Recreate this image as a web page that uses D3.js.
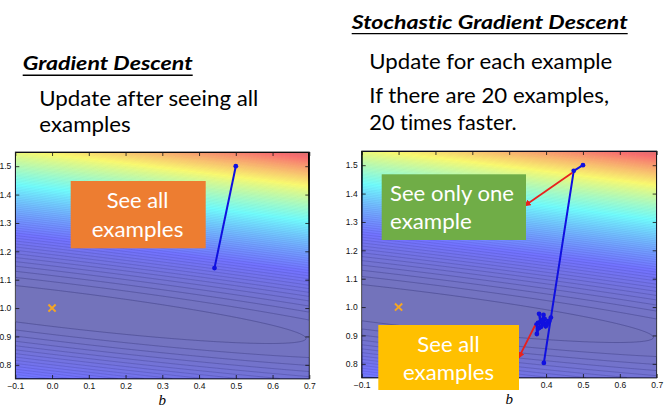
<!DOCTYPE html>
<html>
<head>
<meta charset="utf-8">
<script src="https://cdn.jsdelivr.net/npm/d3@7"></script>
<style>
  body { margin: 0; background: #fff; }
  svg { display: block; }
  .tick text { font-family: "Liberation Sans", Arial, sans-serif; font-size: 8.5px; fill: #111; }
  .tick line { stroke: #111; stroke-width: 0.8; }
  .slide, .note { font-family: Lato, "Open Sans", sans-serif; font-variant-ligatures: none; font-feature-settings: "liga" 0, "clig" 0; }
  .slide { fill: #000; }
  .note { fill: #fff; font-size: 22px; }
</style>
</head>
<body>
<svg id="chart" width="669" height="415"></svg>
<script>
// axis values
var bTicks = [-0.1, 0.0, 0.1, 0.2, 0.3, 0.4, 0.5, 0.6, 0.7];
var wTicks = [0.8, 0.9, 1.0, 1.1, 1.2, 1.3, 1.4, 1.5];
var bDomain = [-0.1, 0.7];
var wDomain = [0.75, 1.55];

// the true (b, w) marked with the orange cross
var target = [0.0, 1.0];

// gradient descent: one update after all examples
var gdPath = [[0.500, 1.500], [0.442, 1.141]];

// stochastic gradient descent: one update per example
var sgdPath = [
  [0.500, 1.500], [0.475, 1.480], [0.394, 0.803], [0.413, 0.963],
  [0.405, 0.945], [0.399, 0.932], [0.393, 0.972], [0.388, 0.948],
  [0.381, 0.976], [0.384, 0.947], [0.374, 0.938], [0.375, 0.905],
  [0.381, 0.926], [0.392, 0.941], [0.401, 0.936], [0.409, 0.952],
  [0.396, 0.958], [0.386, 0.930], [0.378, 0.944], [0.391, 0.950]
];

// loss surface: bb*db^2 + 2*bw*db*dw + ww*dw^2 around lossCentre
var lossCentre = [0.0, 1.0];
var lossCoef = [3.76, 17.8, 115];
var contourStart = 0.48, contourStep = 0.515, colourMax = 54, fillAlpha = 0.55;

// red arrows pointing from the path to the notes (b, w)
var sgdArrows = [
  { from: [0.471, 1.473], to: [0.343, 1.358] },
  { from: [0.370, 0.935], to: [0.326, 0.822] }
];

var panels = [
  { id: 'gd',  x: [15.3, 309.3],  y: [379, 152], path: gdPath,  arrows: [], hidden: [] },
  // the yellow note covers the first b labels on the right
  { id: 'sgd', x: [361.7, 656.7], y: [378, 151], path: sgdPath, arrows: sgdArrows, hidden: [0.0, 0.1, 0.2, 0.3] }
];

var svg = d3.select('#chart');
var defs = svg.append('defs');

defs.append('marker')
    .attr('id', 'head')
    .attr('viewBox', '0 0 10 10')
    .attr('refX', 8).attr('refY', 5)
    .attr('markerWidth', 7).attr('markerHeight', 7)
    .attr('markerUnits', 'userSpaceOnUse')
    .attr('orient', 'auto')
  .append('path')
    .attr('d', 'M0,0L10,5L0,10z')
    .attr('fill', '#e8211d');

function loss(b, w) {
  var db = b - lossCentre[0], dw = w - lossCentre[1];
  return lossCoef[0]*db*db + 2*lossCoef[1]*db*dw + lossCoef[2]*dw*dw;
}

function jet(t) {
  t = Math.max(0, Math.min(1, t));
  var c = function(v) { return Math.max(0, Math.min(1, 1.5 - Math.abs(4*t - v))); };
  return [c(3), c(2), c(1)];
}

function fillColour(v) {
  var j = jet(v / colourMax);
  return 'rgb(' + j.map(function(c) {
    return Math.round(255 * (fillAlpha*c + 1 - fillAlpha));
  }).join(',') + ')';
}

// low lines stand out, the dense high ones only tint the colours
function lineOpacity(v) {
  return 0.08 + 0.5 * Math.exp(-v / 5);
}

var levels = d3.range(contourStart, colourMax + 6, contourStep);
var fmt = d3.format('.1f');

panels.forEach(function(p) {
  var x = d3.scaleLinear().domain(bDomain).range(p.x),
      y = d3.scaleLinear().domain(wDomain).range(p.y),
      n = Math.round(p.x[1] - p.x[0]),
      m = Math.round(p.y[0] - p.y[1]),
      values = new Float64Array(n * m);

  for (var j = 0; j < m; j++) {
    var w = wDomain[1] - (j + 0.5) / m * (wDomain[1] - wDomain[0]);
    for (var i = 0; i < n; i++) {
      var b = bDomain[0] + (i + 0.5) / n * (bDomain[1] - bDomain[0]);
      values[j*n + i] = loss(b, w);
    }
  }

  var proj = d3.geoTransform({
    point: function(gx, gy) {
      this.stream.point(
        x(bDomain[0] + gx / n * (bDomain[1] - bDomain[0])),
        y(wDomain[1] - gy / m * (wDomain[1] - wDomain[0])));
    }
  });
  var path = d3.geoPath(proj);
  var bands = d3.contours().size([n, m]).thresholds(levels)(values);

  defs.append('clipPath').attr('id', 'clip-' + p.id)
    .append('rect')
      .attr('x', p.x[0]).attr('y', p.y[1])
      .attr('width', p.x[1] - p.x[0]).attr('height', p.y[0] - p.y[1]);

  var g = svg.append('g').attr('clip-path', 'url(#clip-' + p.id + ')');

  g.append('rect')
      .attr('x', p.x[0]).attr('y', p.y[1])
      .attr('width', p.x[1] - p.x[0]).attr('height', p.y[0] - p.y[1])
      .attr('fill', fillColour(contourStart / 2));

  g.selectAll('path.band')
    .data(bands)
    .enter().append('path')
      .attr('class', 'band')
      .attr('d', path)
      .attr('fill', function(d) { return fillColour(d.value + contourStep / 2); });

  g.selectAll('path.iso')
    .data(bands)
    .enter().append('path')
      .attr('class', 'iso')
      .attr('d', path)
      .attr('fill', 'none')
      .attr('stroke', '#14144e')
      .attr('stroke-opacity', function(d) { return lineOpacity(d.value); })
      .attr('stroke-width', 0.5);

  // target cross
  var tx = x(target[0]), ty = y(target[1]), r = 3.6;
  g.append('path')
      .attr('d', 'M' + (tx-r) + ',' + (ty-r) + 'L' + (tx+r) + ',' + (ty+r) +
                 'M' + (tx-r) + ',' + (ty+r) + 'L' + (tx+r) + ',' + (ty-r))
      .attr('stroke', '#f5a623')
      .attr('stroke-width', 2);

  // descent path
  g.append('path')
      .datum(p.path)
      .attr('d', d3.line().x(function(d) { return x(d[0]); }).y(function(d) { return y(d[1]); }))
      .attr('fill', 'none')
      .attr('stroke', '#1010e0')
      .attr('stroke-width', 2);

  g.selectAll('circle.step')
    .data(p.path)
    .enter().append('circle')
      .attr('class', 'step')
      .attr('cx', function(d) { return x(d[0]); })
      .attr('cy', function(d) { return y(d[1]); })
      .attr('r', 2.4)
      .attr('fill', '#1010e0');

  // axes, matplotlib classic style: ticks inside on all sides
  var bLabel = function(d) {
    return p.hidden.some(function(h) { return Math.abs(h - d) < 1e-9; }) ? '' : fmt(d);
  };
  var ax = svg.append('g');
  ax.append('g').attr('transform', 'translate(0,' + p.y[0] + ')')
    .call(d3.axisBottom(x).tickValues(bTicks).tickSize(-4).tickPadding(4).tickFormat(bLabel));
  ax.append('g').attr('transform', 'translate(0,' + p.y[1] + ')')
    .call(d3.axisTop(x).tickValues(bTicks).tickSize(-4).tickFormat(''));
  ax.append('g').attr('transform', 'translate(' + p.x[0] + ',0)')
    .call(d3.axisLeft(y).tickValues(wTicks).tickSize(-4).tickPadding(4).tickFormat(fmt));
  ax.append('g').attr('transform', 'translate(' + p.x[1] + ',0)')
    .call(d3.axisRight(y).tickValues(wTicks).tickSize(-4).tickFormat(''));
  ax.selectAll('.domain').remove();
  ax.append('rect')
      .attr('x', p.x[0]).attr('y', p.y[1])
      .attr('width', p.x[1] - p.x[0]).attr('height', p.y[0] - p.y[1])
      .attr('fill', 'none').attr('stroke', '#222').attr('stroke-width', 0.8);

  svg.append('text')
      .attr('x', (p.x[0] + p.x[1]) / 2).attr('y', p.y[0] + 26)
      .attr('text-anchor', 'middle')
      .style('font-family', '"Liberation Serif", "DejaVu Serif", serif')
      .style('font-style', 'italic')
      .style('font-size', '15px')
      .text('b');

  p.arrows.forEach(function(a) {
    svg.append('line')
        .attr('x1', x(a.from[0])).attr('y1', y(a.from[1]))
        .attr('x2', x(a.to[0])).attr('y2', y(a.to[1]))
        .attr('stroke', '#e8211d').attr('stroke-width', 1.8)
        .attr('marker-end', 'url(#head)');
  });
});

// headings and slide text
function slideText(t, px, py, size, len, bold) {
  return svg.append('text')
      .attr('class', 'slide')
      .attr('x', px).attr('y', py)
      .attr('textLength', len).attr('lengthAdjust', 'spacingAndGlyphs')
      .style('font-size', size + 'px')
      .style('font-weight', bold ? 'bold' : 'normal')
      .style('font-style', bold ? 'italic' : 'normal')
      .text(t);
}

slideText('Gradient Descent', 22.7, 70, 18.5, 170, true);
svg.append('line').attr('x1', 22.7).attr('x2', 192.7).attr('y1', 75.3).attr('y2', 75.3)
    .attr('stroke', '#000').attr('stroke-width', 1.4);
slideText('Update after seeing all', 39.3, 106, 22, 219, false);
slideText('examples', 39.3, 132.3, 22, 91.4, false);

slideText('Stochastic Gradient Descent', 351.7, 29.3, 19.5, 276, true);
svg.append('line').attr('x1', 351.7).attr('x2', 627.7).attr('y1', 33.6).attr('y2', 33.6)
    .attr('stroke', '#000').attr('stroke-width', 1.4);
slideText('Update for each example', 369.3, 69, 22, 243, false);
slideText('If there are 20 examples,', 369.3, 102.7, 22, 239.7, false);
slideText('20 times faster.', 369.3, 130, 22, 147.4, false);

// coloured notes
var notes = [
  { x: 70.7, y: 181, w: 135, h: 67.3, fill: '#ed7d31', anchor: 'middle', tx: 137.5,
    lines: [['See all', 208.3, 61.7], ['examples', 236.7, 91.7]] },
  { x: 381.7, y: 174.3, w: 144.3, h: 65.7, fill: '#70ad47', anchor: 'start', tx: 390,
    lines: [['See only one', 201, 124], ['example', 229.3, 81.7]] },
  { x: 378.3, y: 325, w: 140.7, h: 65, fill: '#ffc000', anchor: 'middle', tx: 448.5,
    lines: [['See all', 352.3, 62.3], ['examples', 380, 91]] }
];

notes.forEach(function(n) {
  svg.append('rect')
      .attr('x', n.x).attr('y', n.y).attr('width', n.w).attr('height', n.h)
      .attr('fill', n.fill);
  n.lines.forEach(function(l) {
    svg.append('text')
        .attr('class', 'note')
        .attr('x', n.tx).attr('y', l[1])
        .attr('text-anchor', n.anchor)
        .attr('textLength', l[2]).attr('lengthAdjust', 'spacingAndGlyphs')
        .text(l[0]);
  });
});
</script>
</body>
</html>
